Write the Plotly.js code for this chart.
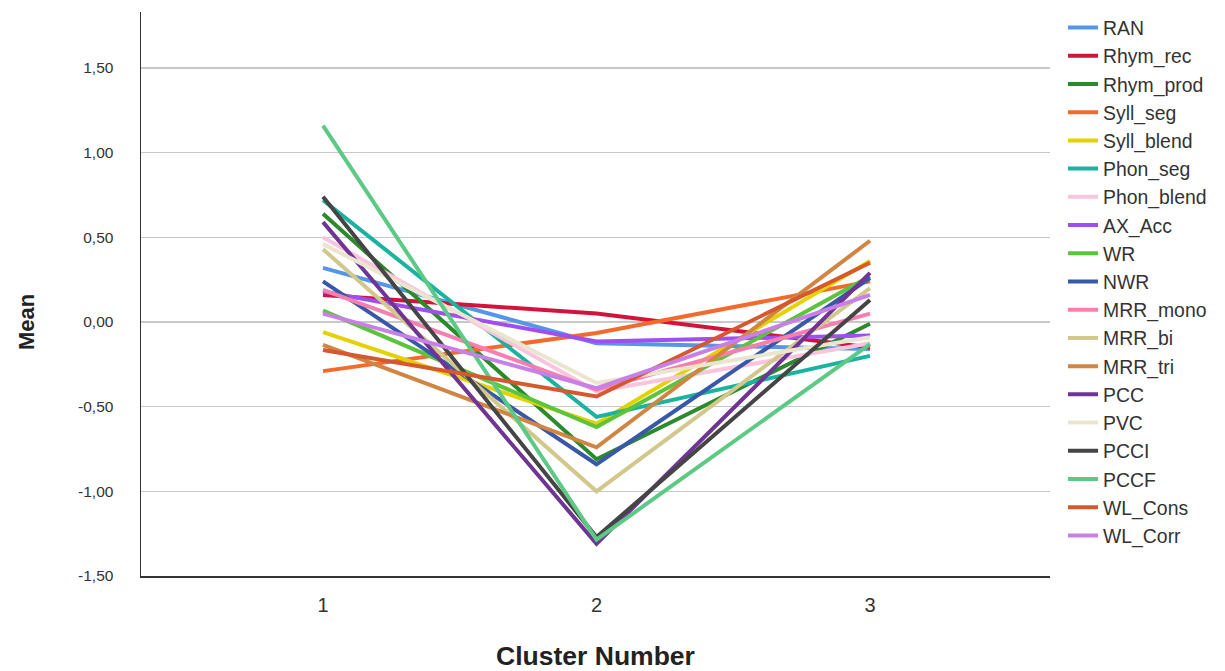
<!DOCTYPE html>
<html>
<head>
<meta charset="utf-8">
<script src="https://cdn.plot.ly/plotly-3.0.1.min.js"></script>
<style>html,body{margin:0;padding:0;background:#fff;}#chart{width:1225px;height:671px;}</style>
</head>
<body>
<div id="chart"></div>
<script>
const clusters = [1, 2, 3];
const clusterLabels = ["1", "2", "3"];
const seriesNames = ["RAN","Rhym_rec","Rhym_prod","Syll_seg","Syll_blend","Phon_seg","Phon_blend","AX_Acc","WR","NWR","MRR_mono","MRR_bi","MRR_tri","PCC","PVC","PCCI","PCCF","WL_Cons","WL_Corr"];
const RAN        = [0.32, -0.125, -0.16];
const Rhym_rec   = [0.16, 0.05, -0.15];
const Rhym_prod  = [0.64, -0.81, -0.01];
const Syll_seg   = [-0.29, -0.065, 0.24];
const Syll_blend = [-0.06, -0.60, 0.36];
const Phon_seg   = [0.72, -0.56, -0.20];
const Phon_blend = [0.50, -0.41, -0.125];
const AX_Acc     = [0.18, -0.115, -0.08];
const WR         = [0.067, -0.62, 0.27];
const NWR        = [0.24, -0.84, 0.26];
const MRR_mono   = [0.19, -0.40, 0.05];
const MRR_bi     = [0.43, -1.00, 0.20];
const MRR_tri    = [-0.135, -0.74, 0.48];
const PCC        = [0.59, -1.31, 0.29];
const PVC        = [0.46, -0.36, -0.09];
const PCCI       = [0.74, -1.27, 0.13];
const PCCF       = [1.16, -1.285, -0.13];
const WL_Cons    = [-0.165, -0.44, 0.35];
const WL_Corr    = [0.05, -0.39, 0.16];
const seriesValues = [RAN,Rhym_rec,Rhym_prod,Syll_seg,Syll_blend,Phon_seg,Phon_blend,AX_Acc,WR,NWR,MRR_mono,MRR_bi,MRR_tri,PCC,PVC,PCCI,PCCF,WL_Cons,WL_Corr];
const yTickVals = [-1.5, -1.0, -0.5, 0.0, 0.5, 1.0, 1.5];
const yTickText = ["-1,50", "-1,00", "-0,50", "0,00", "0,50", "1,00", "1,50"];

const colors = ["#5596e6","#d2143c","#2b8a2b","#f26a2c","#e3d200","#1bb3a0","#f9c4de","#a04ef0","#5cc43c","#3a58a8","#f77fb0","#d2c88c","#d08542","#6f3594","#ebe5d0","#454545","#5cc985","#d5582e","#c87fe6"];

const traces = seriesNames.map((name, i) => ({
  type: 'scatter', mode: 'lines', name: name,
  x: clusters, y: seriesValues[i],
  line: {color: colors[i], width: 4}
}));

const layout = {
  width: 1225, height: 671,
  margin: {l: 141, r: 175, t: 12, b: 95, autoexpand: false},
  paper_bgcolor: '#fff', plot_bgcolor: '#fff',
  font: {family: 'Liberation Sans, Arial, sans-serif', color: '#333'},
  showlegend: true,
  legend: {x: 1.0143, xanchor: 'left', y: 1.0064, yanchor: 'top', font: {size: 19.4, color: '#333'},
           bgcolor: 'rgba(0,0,0,0)', maxheight: 660},
  xaxis: {
    range: [0.3346, 3.658], tickvals: clusters, ticktext: clusterLabels,
    showgrid: false, zeroline: false, showline: true, linecolor: '#333', linewidth: 1.5,
    ticks: '', tickfont: {size: 20, color: '#333'}, ticklabelstandoff: 10,
    title: {text: '<b>Cluster Number</b>', font: {size: 26.5, color: '#222'}, standoff: 32}
  },
  yaxis: {
    range: [-1.5, 1.831], tickvals: yTickVals, ticktext: yTickText,
    showgrid: true, gridcolor: '#c8c8c8', gridwidth: 1.5, zeroline: false,
    showline: true, linecolor: '#333', linewidth: 1.5,
    ticks: '', tickfont: {size: 15.5, color: '#333'}, ticklabelstandoff: 23
  },
  annotations: [{
    text: '<b>Mean</b>', xref: 'paper', yref: 'paper', x: -0.1254, y: 0.4504,
    xanchor: 'center', yanchor: 'middle', textangle: -90, showarrow: false,
    font: {size: 22, color: '#222'}
  }]
};

Plotly.newPlot('chart', traces, layout, {displayModeBar: false, staticPlot: true});
</script>
</body>
</html>
